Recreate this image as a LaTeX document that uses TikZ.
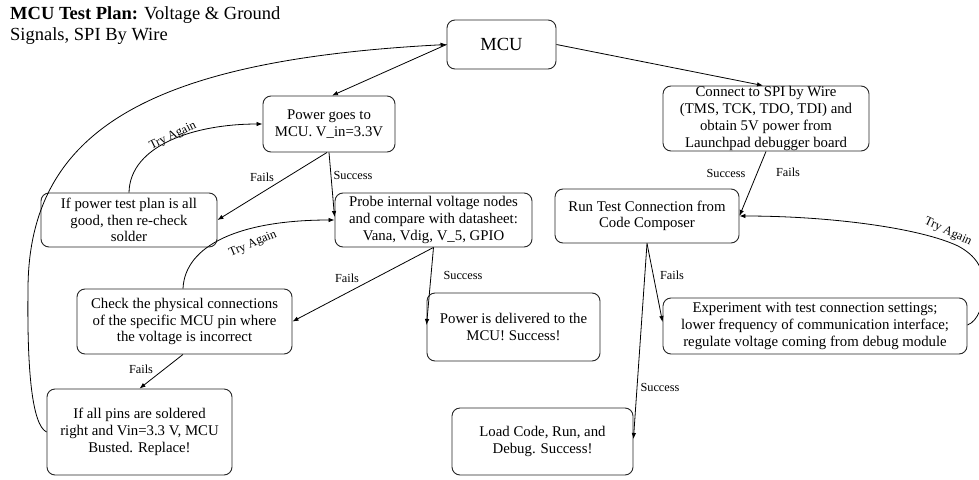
\documentclass[tikz,border=0pt]{standalone}
\usepackage{fontspec}
\setmainfont{Liberation Serif}
\usetikzlibrary{arrows.meta}
\begin{document}
\begin{tikzpicture}[x=1pt,y=-1pt,
  box/.style={draw=black!85, line width=0.9pt, rounded corners=8pt, align=center, inner sep=0pt, font=\fontsize{14.8}{16.7}\selectfont},
  lab/.style={font=\fontsize{12.3}{14}\selectfont, inner sep=0pt},
  arr/.style={draw, line width=0.8pt, -{Latex[length=6pt,width=4.5pt]}}]
\fill[white] (0,0) rectangle (979,479);
\useasboundingbox (0,0) rectangle (979,479);

\node[anchor=north west, inner sep=0pt, align=left, font=\fontsize{18.5}{21}\selectfont] (title) at (10,6) {\textbf{MCU Test Plan:} Voltage \& Ground\\Signals, SPI By Wire};

\node[box, minimum width=109pt, minimum height=49pt, font=\fontsize{18.5}{20}\selectfont] (mcu) at (501.5,44.5) {MCU};
\node[box, minimum width=132pt, minimum height=56pt] (power) at (329,124) {Power goes to\\MCU. V\_in=3.3V};
\node[box, minimum width=197pt, minimum height=54pt] (probe) at (433.5,220) {Probe internal voltage nodes\\and compare with datasheet:\\Vana, Vdig, V\_5, GPIO};
\node[box, minimum width=176pt, minimum height=54pt] (ifpower) at (129,220) {If power test plan is all\\good, then re-check\\solder};
\node[box, minimum width=215pt, minimum height=65pt] (check) at (184.5,321.5) {Check the physical connections\\of the specific MCU pin where\\the voltage is incorrect};
\node[box, minimum width=173pt, minimum height=68pt] (deliv) at (513.5,327) {Power is delivered to the\\MCU! Success!};
\node[box, minimum width=185pt, minimum height=86pt] (allpins) at (139.5,432) {If all pins are soldered\\right and Vin=3.3 V, MCU\\Busted. Replace!};
\node[box, minimum width=206pt, minimum height=65pt] (spi) at (766,118.5) {Connect to SPI by Wire\\(TMS, TCK, TDO, TDI) and\\obtain 5V power from\\Launchpad debugger board};
\node[box, minimum width=184pt, minimum height=54pt] (runtest) at (647,216) {Run Test Connection from\\Code Composer};
\node[box, minimum width=304pt, minimum height=56pt] (exper) at (815,326) {Experiment with test connection settings;\\lower frequency of communication interface;\\regulate voltage coming from debug module};
\node[box, minimum width=181pt, minimum height=67pt] (load) at (542.5,441.5) {Load Code, Run, and\\Debug. Success!};

\draw[arr] (mcu.west) -- ([xshift=3pt]power.north);
\draw[arr] (mcu.east) -- ([xshift=-3pt]spi.north);
\draw[arr] (power.south) -- ([yshift=3pt]probe.west);
\draw[arr] ([xshift=-2pt]power.south) -- (ifpower.east);
\draw[arr] (ifpower.north) .. controls (130,145) and (195,124) .. (power.west);
\draw[arr] (probe.south) -- (check.east);
\draw[arr] (probe.south) -- ([yshift=2pt]deliv.west);
\draw[arr] ([xshift=-1.5pt]check.north) .. controls (185,245) and (240,220) .. (probe.west);
\draw[arr] ([xshift=-1.5pt]check.south) -- (allpins.north);
\draw[arr] (allpins.west) .. controls (32,425) and (27,370) .. (28,290) .. controls (28,130) and (150,60) .. (mcu.west);
\draw[arr] (spi.south) -- (runtest.east);
\draw[arr] (runtest.south) -- ([yshift=4pt]exper.west);
\draw[arr] (runtest.south) -- ([yshift=2.5pt]load.east);
\draw[arr] ([yshift=1pt]exper.east) .. controls (978,321) and (984,305) .. (984,285) .. controls (984,268) and (975,255) .. (958,246) .. controls (920,228) and (830,216) .. (runtest.east);

\node[lab] (f1) at (262,177) {Fails};
\node[lab] (s1) at (353,175) {Success};
\node[lab] (f2) at (347,278) {Fails};
\node[lab] (s2) at (463,275) {Success};
\node[lab] (f3) at (141,369) {Fails};
\node[lab] (s4) at (726,173) {Success};
\node[lab] (f4) at (788,172) {Fails};
\node[lab] (f5) at (672,275) {Fails};
\node[lab] (s5) at (660,387) {Success};
\node[lab, rotate=26] (ta1) at (173,136) {Try Again};
\node[lab, rotate=23] (ta2) at (253,244) {Try Again};
\node[lab, rotate=-25] (ta3) at (948,232) {Try Again};
\end{tikzpicture}
\end{document}
